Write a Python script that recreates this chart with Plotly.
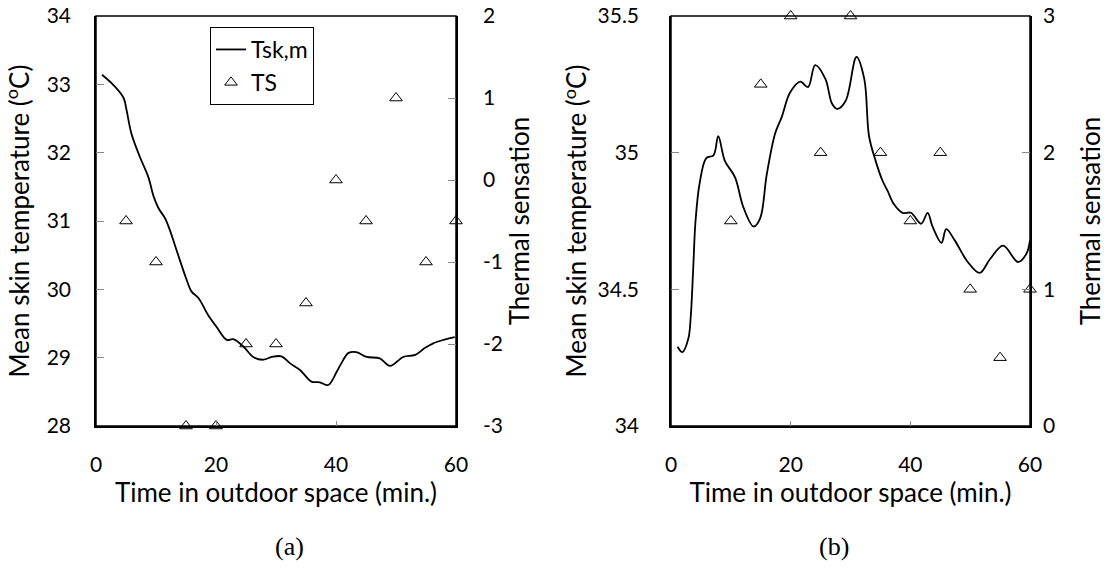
import plotly.graph_objects as go

# ---- Data ----
# Panel (a)
a_time = [1.0, 2.9, 4.6, 5.1, 5.9, 7.3, 8.7, 9.6, 10.4, 11.5, 12.3, 13.4, 15.1, 15.9, 17.1,
          18.7, 20.1, 21.8, 22.9, 24.6, 26.2, 27.9, 29.3, 30.9, 32.3, 34.0, 35.9, 37.3,
          38.7, 40.1, 40.9, 42.1, 43.4, 45.1, 47.3, 49.0, 51.2, 53.2, 54.8, 56.2, 57.9, 59.8]
a_tsk = [33.14, 32.99, 32.80, 32.62, 32.28, 31.94, 31.65, 31.36, 31.19, 31.04, 30.87, 30.58,
         30.14, 29.97, 29.87, 29.62, 29.45, 29.26, 29.27, 29.16, 29.01, 28.97, 29.01, 29.02,
         28.92, 28.82, 28.65, 28.64, 28.60, 28.79, 28.92, 29.07, 29.08, 29.01, 28.99, 28.88,
         29.01, 29.04, 29.14, 29.21, 29.26, 29.30]
a_ts_time = [5, 10, 15, 20, 25, 30, 35, 40, 45, 50, 55, 60]
a_ts = [-0.5, -1, -3, -3, -2, -2, -1.5, 0, -0.5, 1, -1, -0.5]

# Panel (b)
b_time = [1.1, 1.9, 2.9, 3.3, 3.7, 4.1, 4.8, 5.9, 7.1, 7.9, 9.0, 10.7, 12.1, 13.8, 14.9,
          16.0, 17.4, 18.5, 19.9, 21.6, 22.9, 24.1, 25.8, 26.9, 27.8, 29.2, 31.0, 32.3,
          33.1, 34.2, 35.3, 36.2, 37.3, 38.7, 40.1, 41.8, 42.9, 43.7, 45.2, 46.0, 47.4,
          49.6, 51.6, 53.3, 55.5, 58.0, 59.4, 60.0]
b_tsk = [34.29, 34.27, 34.32, 34.40, 34.57, 34.75, 34.89, 34.98, 34.99, 35.06, 34.97, 34.91,
         34.80, 34.73, 34.76, 34.92, 35.07, 35.13, 35.22, 35.26, 35.24, 35.32, 35.27, 35.18,
         35.16, 35.19, 35.35, 35.27, 35.06, 34.97, 34.90, 34.86, 34.81, 34.78, 34.78, 34.74,
         34.78, 34.73, 34.67, 34.72, 34.68, 34.60, 34.56, 34.61, 34.66, 34.60, 34.63, 34.68]
b_ts_time = [10, 15, 20, 25, 30, 35, 40, 45, 50, 55, 60]
b_ts = [1.5, 2.5, 3, 2, 3, 2, 1.5, 2, 1, 0.5, 1]

x_ticks = [0, 20, 40, 60]
a_left_ticks = [28, 29, 30, 31, 32, 33, 34]
a_right_ticks = [-3, -2, -1, 0, 1, 2]
a_right_labels = ["-3", "-2", "-1", "0", "1", "2"]
b_left_ticks = [34, 34.5, 35, 35.5]
b_left_labels = ["34", "34.5", "35", "35.5"]
b_right_ticks = [0, 1, 2, 3]

FONT = "Lato"
TICK = dict(family=FONT, size=21, color="black")
TITLE = dict(family=FONT, size=26, color="black")

W, H = 1106, 577


def px(x):
    return x / W


def py(y):
    return 1 - y / H


fig = go.Figure()
fig.add_trace(go.Scatter(x=a_time, y=a_tsk, mode="lines", name="Tsk,m",
                         line=dict(color="black", width=1.8, shape="spline"),
                         xaxis="x", yaxis="y"))
fig.add_trace(go.Scatter(x=a_ts_time, y=a_ts, mode="markers", name="TS", cliponaxis=False,
                         marker=dict(symbol="triangle-up-open", size=11, color="black",
                                     line=dict(width=1)),
                         xaxis="x", yaxis="y2"))
fig.add_trace(go.Scatter(x=b_time, y=b_tsk, mode="lines", showlegend=False,
                         line=dict(color="black", width=1.8, shape="spline"),
                         xaxis="x2", yaxis="y3"))
fig.add_trace(go.Scatter(x=b_ts_time, y=b_ts, mode="markers", showlegend=False,
                         cliponaxis=False,
                         marker=dict(symbol="triangle-up-open", size=11, color="black",
                                     line=dict(width=1)),
                         xaxis="x2", yaxis="y4"))

ydom = [py(426), py(16)]
common_x = dict(range=[0, 60], tickvals=x_ticks, ticks="inside", ticklen=5, tickcolor="#888",
                showline=True, linecolor="black", linewidth=1.5,
                showgrid=False, zeroline=False, tickfont=TICK, automargin=False,
                ticklabelstandoff=19, ticklabeloverflow="allow",
                title=dict(text="Time in outdoor space (min.)", font=TITLE, standoff=0))
common_y = dict(ticks="inside", ticklen=8, tickcolor="#888", showline=True, linecolor="black",
                linewidth=1.5, showgrid=False, zeroline=False, tickfont=TICK,
                automargin=False, ticklabeloverflow="allow")

fig.update_layout(
    width=W, height=H,
    margin=dict(l=0, r=0, t=0, b=0),
    paper_bgcolor="white", plot_bgcolor="white",
    font=dict(family=FONT, size=21, color="black"),
    xaxis=dict(domain=[px(96), px(456)], anchor="y", **common_x),
    xaxis2=dict(domain=[px(671), px(1030)], anchor="y3", **common_x),
    yaxis=dict(domain=ydom, anchor="x", range=[28, 34], tickvals=a_left_ticks, side="left",
               ticklabelstandoff=19,
               title=dict(text="Mean skin temperature (<sup>o</sup>C)", font=TITLE, standoff=10),
               **common_y),
    yaxis2=dict(anchor="x", overlaying="y", side="right", range=[-3, 2],
                tickvals=a_right_ticks, ticktext=a_right_labels,
                ticklabelstandoff=21,
                title=dict(text="Thermal sensation", font=TITLE, standoff=4),
                **common_y),
    yaxis3=dict(domain=ydom, anchor="x2", range=[34, 35.5], tickvals=b_left_ticks,
                ticktext=b_left_labels, side="left", ticklabelstandoff=26,
                title=dict(text="Mean skin temperature (<sup>o</sup>C)", font=TITLE, standoff=3),
                **common_y),
    yaxis4=dict(anchor="x2", overlaying="y3", side="right", range=[0, 3],
                tickvals=b_right_ticks, ticklabelstandoff=7,
                title=dict(text="Thermal sensation", font=TITLE, standoff=28),
                **common_y),
    legend=dict(x=px(210), y=py(27), xanchor="left", yanchor="top",
                bgcolor="white", bordercolor="black", borderwidth=1,
                font=dict(family=FONT, size=23), tracegroupgap=0, itemwidth=30),
    showlegend=True,
)

# Frames (top & far-side borders)
for xd, yref in (("x", "y"), ("x2", "y3")):
    fig.add_shape(type="rect", xref=f"{xd} domain", yref=f"{yref} domain",
                  x0=0, x1=1, y0=0, y1=1, line=dict(color="black", width=1.5), layer="below")

fig.add_annotation(text="(a)", x=px(273), y=py(563), xref="paper", yref="paper",
                   showarrow=False, font=dict(family="Liberation Serif", size=26, color="black"))
fig.add_annotation(text="(b)", x=px(851), y=py(563), xref="paper", yref="paper",
                   showarrow=False, font=dict(family="Liberation Serif", size=26, color="black"))

fig.write_html("out.html", config={"displayModeBar": False},
               post_script="document.body.style.margin='0';document.body.style.overflow='hidden';")
